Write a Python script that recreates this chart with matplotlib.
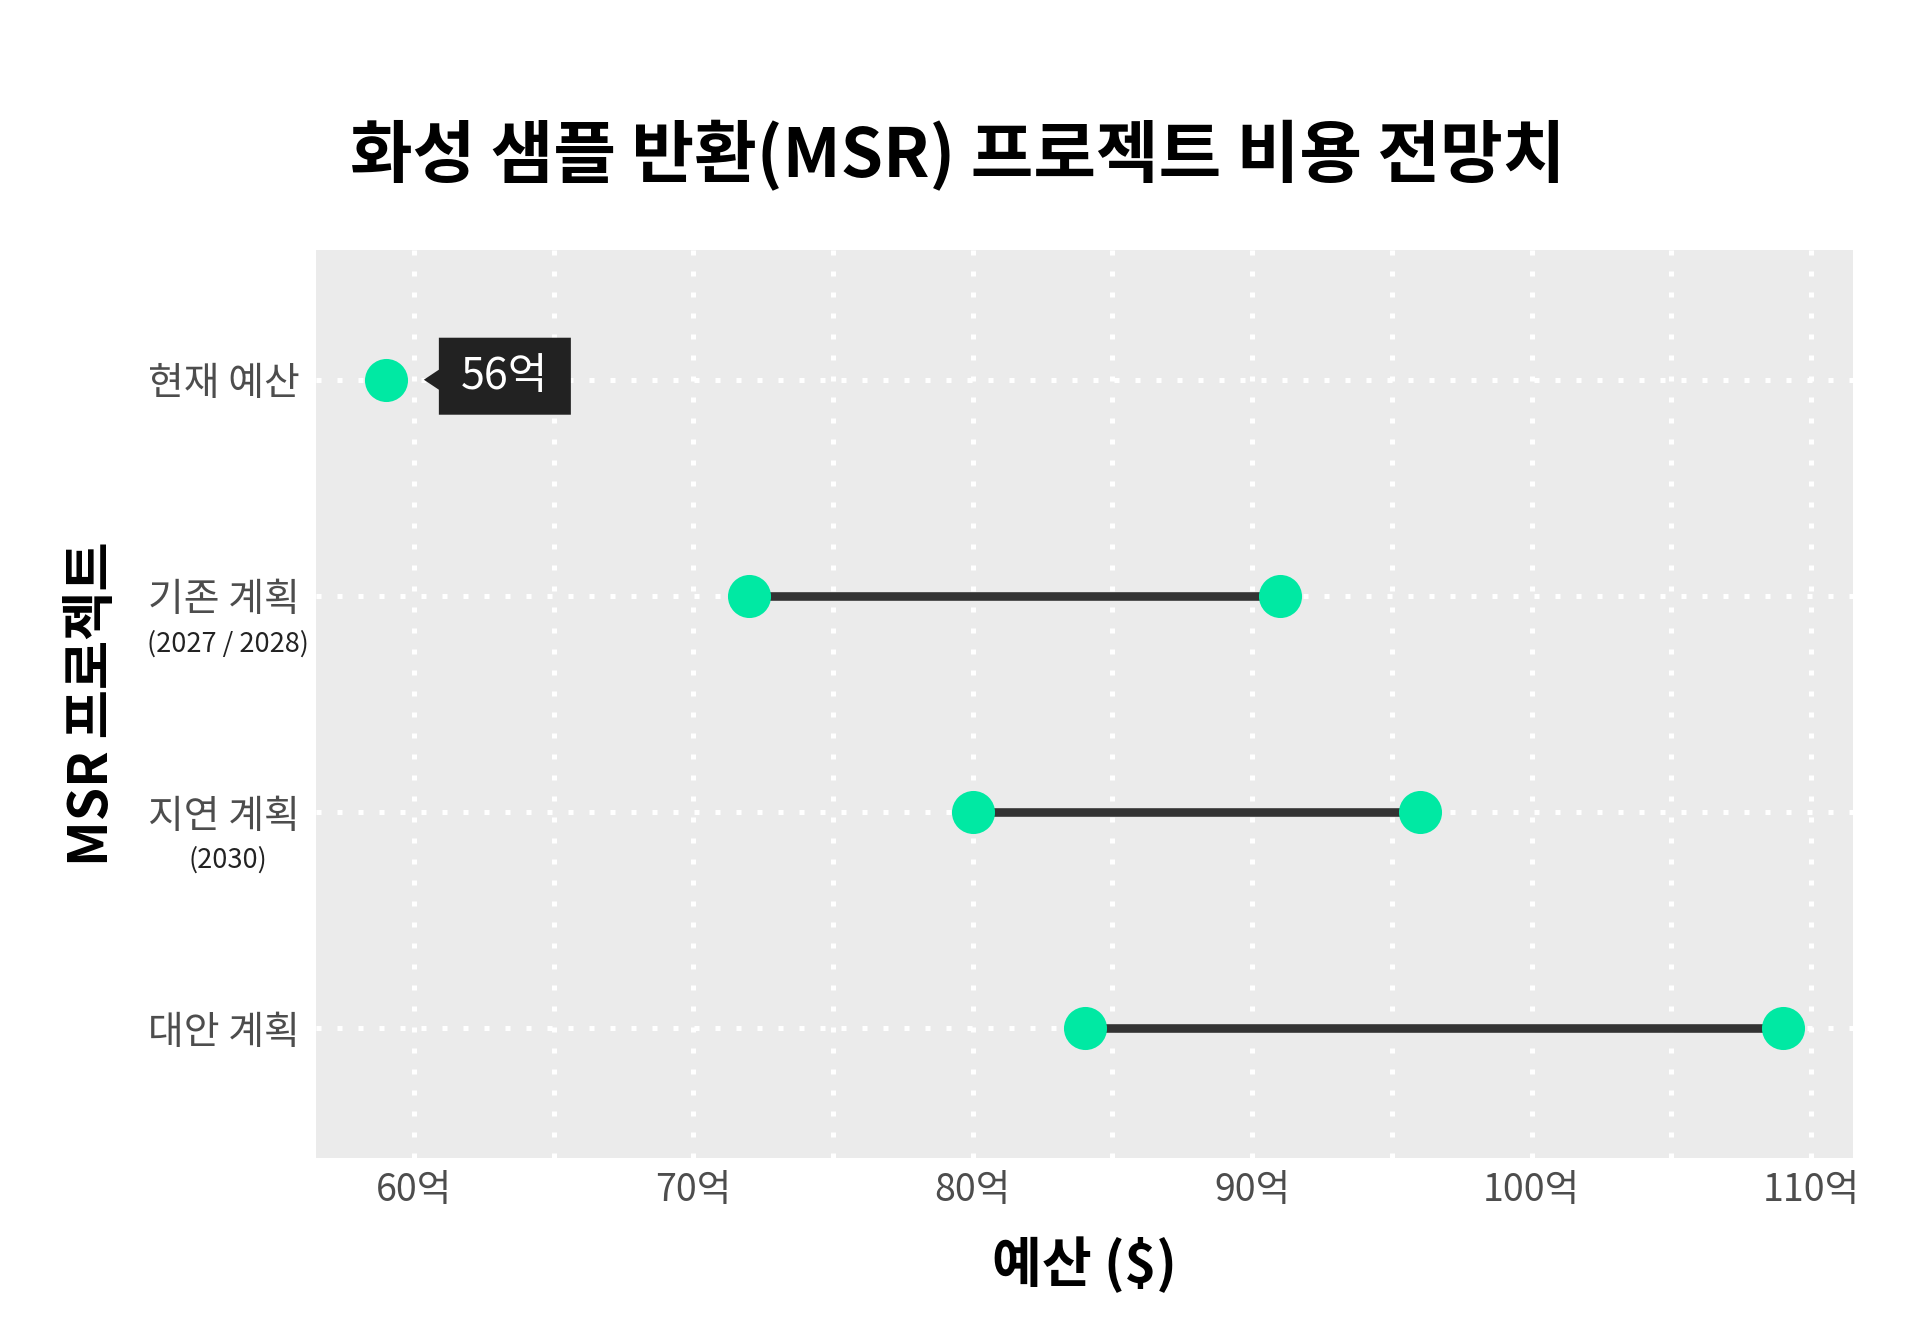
import numpy as np
import matplotlib.pyplot as plt
import matplotlib.transforms as mtransforms
from matplotlib.patches import Polygon
from matplotlib.ticker import MultipleLocator, FuncFormatter

plt.rcParams['font.family'] = ['Noto Sans CJK KR', 'DejaVu Sans']

# ── data ─────────────────────────────────────────────────────────────
categories = ['현재 예산', '기존 계획', '지연 계획', '대안 계획']
sub_labels = ['', '(2027 / 2028)', '(2030)', '']
low_vals = [59, 72, 80, 84]
high_vals = [np.nan, 91, 96, 109]
budget_label = '56억'

title = '화성 샘플 반환(MSR) 프로젝트 비용 전망치'
xlabel = '예산 ($)'
ylabel = 'MSR 프로젝트'

GREEN = '#00E9A3'
SEG = '#333333'
PANEL = '#EBEBEB'
TICK = '#4D4D4D'

fig = plt.figure(figsize=(19.2, 13.29), dpi=100)
fig.patch.set_facecolor('white')
ax = fig.add_axes([316 / 1920, 1 - 1158 / 1329, 1537 / 1920, 908 / 1329])
ax.set_facecolor(PANEL)

ypos = np.arange(len(categories), 0, -1)

# segments, then dots on top
for y, lo, hi in zip(ypos, low_vals, high_vals):
    if not np.isnan(hi):
        ax.plot([lo, hi], [y, y], color=SEG, lw=6.2, solid_capstyle='butt', zorder=3)
        ax.plot([hi], [y], 'o', color=GREEN, ms=31, mec='none', zorder=4)
    ax.plot([lo], [y], 'o', color=GREEN, ms=31, mec='none', zorder=4)

# axis range like ggplot 5% expansion
allv = [v for v in low_vals + high_vals if not np.isnan(v)]
span = max(allv) - min(allv)
ax.set_xlim(min(allv) - 0.05 * span, max(allv) + 0.05 * span)
ax.set_ylim(0.4, len(categories) + 0.6)

ax.xaxis.set_major_locator(MultipleLocator(10))
ax.xaxis.set_minor_locator(MultipleLocator(5))
ax.xaxis.set_major_formatter(FuncFormatter(lambda v, p: f'{v:.0f}억'))
ax.set_yticks(ypos)
ax.set_yticklabels(categories)

grid_kw = dict(color='white', lw=3.6, linestyle=(0, (1, 3.2)), dash_capstyle='butt')
ax.grid(True, which='major', axis='both', **grid_kw)
ax.grid(True, which='minor', axis='x', **grid_kw)
ax.set_axisbelow(True)

for s in ax.spines.values():
    s.set_visible(False)
ax.tick_params(axis='both', which='both', length=0)
ax.tick_params(axis='x', labelsize=27, labelcolor=TICK, pad=9)
ax.tick_params(axis='y', labelsize=28, labelcolor=TICK, pad=12)

# sub labels under y tick labels
for y, sub in zip(ypos, sub_labels):
    if sub:
        ax.annotate(sub, xy=(0, y), xycoords=('axes fraction', 'data'),
                    xytext=(-88, -48), textcoords='offset pixels',
                    ha='center', va='center', fontsize=19.5, color='#222222')

# tooltip label for current budget
anchor = mtransforms.IdentityTransform() + mtransforms.ScaledTranslation(
    low_vals[0], ypos[0], ax.transData)
verts = [(38, 0), (53, 10), (53, 42), (185, 42), (185, -35), (53, -35), (53, -10)]
ax.add_patch(Polygon(verts, closed=True, transform=anchor, facecolor='#222222',
                     edgecolor='none', zorder=5, clip_on=False))
ax.annotate(budget_label, xy=(low_vals[0], ypos[0]), xytext=(119, 3),
            textcoords='offset pixels', ha='center', va='center',
            fontsize=31, color='white', zorder=6)

ax.set_xlabel(xlabel, fontsize=39, fontweight='heavy', color='black')
ax.xaxis.set_label_coords(0.5, -0.088)
ax.set_ylabel(ylabel, fontsize=38.5, fontweight='heavy', color='black')
ax.yaxis.set_label_coords(-0.1275, 0.5)

fig.text(0.499, 1 - 157 / 1329, title, ha='center', va='center',
         fontsize=49, fontweight='heavy', color='black')

fig.savefig('out.png', dpi=100, facecolor='white')
